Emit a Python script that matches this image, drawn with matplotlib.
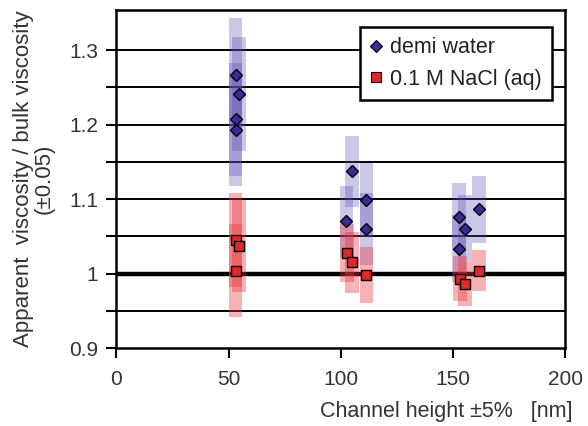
import numpy as np
from matplotlib import pyplot as plt
from matplotlib.lines import Line2D

# channel height [nm], relative viscosity and its error
demi_x = [53.2, 54.7, 53.2, 53.2, 105.0, 111.4, 102.5, 111.4, 152.7, 161.7, 155.3, 152.7]
demi_y = [1.267, 1.241, 1.207, 1.193, 1.137, 1.099, 1.070, 1.060, 1.076, 1.086, 1.060, 1.033]
demi_err = [0.076, 0.076, 0.076, 0.076, 0.048, 0.05, 0.048, 0.048, 0.045, 0.045, 0.045, 0.045]
nacl_x = [53.2, 54.7, 53.2, 102.8, 105.0, 111.4, 153.1, 155.3, 161.7]
nacl_y = [1.045, 1.037, 1.004, 1.027, 1.015, 0.998, 0.993, 0.986, 1.004]
nacl_err = [0.063, 0.062, 0.062, 0.039, 0.041, 0.038, 0.03, 0.03, 0.028]

xticks = [0, 50, 100, 150, 200]
yticks = [0.9, 1.0, 1.1, 1.2, 1.3]
ylabels = ["0.9", "1", "1.1", "1.2", "1.3"]
grid_levels = [0.95, 1.05, 1.1, 1.15, 1.2, 1.25, 1.3]

plt.rcParams['font.family'] = ['Liberation Sans', 'DejaVu Sans']

fig = plt.figure(figsize=(5.88, 4.26), dpi=100)
ax = fig.add_axes([0.198, 0.183, 0.763, 0.794])

blue = '#3a2c98'
red = '#e02828'

for g in grid_levels:
    ax.axhline(g, color='black', lw=1.4, zorder=1)
ax.axhline(1.0, color='black', lw=3.2, zorder=1)

dx = np.array(demi_x); dy = np.array(demi_y); de = np.array(demi_err)
nx = np.array(nacl_x); ny = np.array(nacl_y); ne = np.array(nacl_err)
ax.bar(dx, 2 * de, bottom=dy - de, width=6.0,
       color='#5548b0', alpha=0.3, lw=0, zorder=2)
ax.bar(nx, 2 * ne, bottom=ny - ne, width=6.0,
       color='#e8363a', alpha=0.38, lw=0, zorder=2)

ax.plot(dx, dy, 'D', ms=6.5, mfc=blue, mec='black', mew=1.0, ls='none', zorder=4)
ax.plot(nx, ny, 's', ms=6.5, mfc=red, mec='black', mew=1.0, ls='none', zorder=4)

ax.set_xlim(0, 200)
ax.set_ylim(0.9, 1.354)
ax.set_xticks(xticks)
ax.set_xticklabels([str(t) for t in xticks])
ax.set_yticks(yticks)
ax.set_yticklabels(ylabels)
ax.set_yticks([0.95, 1.05, 1.15, 1.25], minor=True)
ax.tick_params(axis='both', which='both', direction='out', length=7, width=1.5,
               labelsize=15, colors='black', labelcolor='#333333')
ax.tick_params(axis='x', pad=9)
ax.tick_params(axis='y', pad=6)
for s in ax.spines.values():
    s.set_linewidth(1.8)
    s.set_zorder(5)

ax.set_ylabel("Apparent  viscosity / bulk viscosity\n(±0.05)", fontsize=16,
              color='#333333', linespacing=0.95)
ax.yaxis.set_label_coords(-0.138, 0.5)
ax.set_xlabel("Channel height ±5%   [nm]", fontsize=15.5, color='#333333', loc='right')
ax.xaxis.set_label_coords(1.016, -0.158)

handles = [Line2D([], [], marker='D', ms=6, mfc=blue, mec='black', mew=0.8, ls='none'),
           Line2D([], [], marker='s', ms=6.5, mfc=red, mec='black', mew=0.8, ls='none')]
leg = ax.legend(handles, ["demi water", "0.1 M NaCl (aq)"], loc='upper right',
                bbox_to_anchor=(0.97, 0.948), fontsize=15.5, frameon=True, fancybox=False,
                edgecolor='black', framealpha=1, handlelength=0.6, handletextpad=0.35,
                borderpad=0.45, labelspacing=0.5, borderaxespad=0)
leg.get_frame().set_linewidth(1.8)
leg.set_zorder(6)
for t in leg.get_texts():
    t.set_color('#222222')

fig.savefig('out.png', dpi=100)
